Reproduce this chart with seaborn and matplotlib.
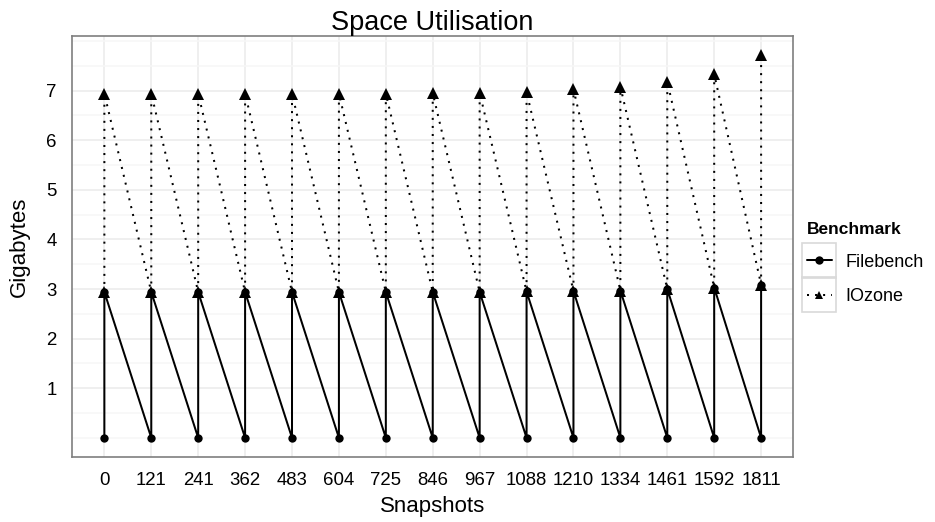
import pandas as pd
import matplotlib
matplotlib.use("Agg")
import matplotlib.pyplot as plt
import seaborn as sns
from matplotlib.patches import Rectangle

# Snapshot labels (evenly spaced categories on the x axis)
snapshots = ["0", "121", "241", "362", "483", "604", "725", "846",
             "967", "1088", "1210", "1334", "1461", "1592", "1811"]

# Space used (GB) at each snapshot
filebench_base = [0.0, 0.0, 0.0, 0.0, 0.0, 0.0, 0.0, 0.0,
                  0.0, 0.0, 0.0, 0.0, 0.0, 0.0, 0.0]
filebench_top = [2.94, 2.94, 2.94, 2.94, 2.94, 2.94, 2.94, 2.94,
                 2.94, 2.95, 2.96, 2.97, 3.00, 3.03, 3.09]
iozone_top = [6.94, 6.94, 6.94, 6.94, 6.94, 6.94, 6.94, 6.95,
              6.96, 6.97, 7.03, 7.08, 7.18, 7.33, 7.72]

y_breaks = [1, 2, 3, 4, 5, 6, 7]
y_minor = [0, 0.5, 1.5, 2.5, 3.5, 4.5, 5.5, 6.5, 7.5, 8]

rows = []
for i, lab in enumerate(snapshots):
    rows.append((i, filebench_base[i], "Filebench"))
    rows.append((i, filebench_top[i], "Filebench"))
    rows.append((i, filebench_top[i], "IOzone"))
    rows.append((i, iozone_top[i], "IOzone"))
df = pd.DataFrame(rows, columns=["pos", "gb", "Benchmark"])

sns.set_style("white")
plt.rcParams["font.family"] = ["Liberation Sans", "DejaVu Sans"]
plt.rcParams["text.color"] = "black"
plt.rcParams["axes.labelcolor"] = "black"

W, H = 935, 522
fig, ax = plt.subplots(figsize=(W / 100, H / 100), dpi=100)
fig.subplots_adjust(left=72 / W, right=793 / W, top=1 - 36 / H, bottom=1 - 457 / H)

sns.lineplot(
    data=df, x="pos", y="gb", hue="Benchmark", style="Benchmark",
    palette={"Filebench": "black", "IOzone": "black"},
    markers={"Filebench": "o", "IOzone": "^"},
    dashes={"Filebench": "", "IOzone": (1, 3)},
    estimator=None, sort=True, ax=ax,
    linewidth=1.45, markersize=6.0,
    markeredgecolor="black", markeredgewidth=0,
)

# triangles sit on top of the circles and are a touch larger
for ln in ax.lines:
    if ln.get_marker() == "^":
        ln.set_markersize(8.4)
        ln.set_zorder(3)
    elif ln.get_marker() == "o":
        ln.set_zorder(2.5)

ax.set_xlim(-0.69, 14.68)
ax.set_ylim(-0.386, 8.1)
ax.set_xticks(range(len(snapshots)))
ax.set_xticklabels(snapshots)
ax.set_yticks(y_breaks)
ax.set_yticks(y_minor, minor=True)

ax.set_axisbelow(True)
ax.grid(which="major", color="#EBEBEB", linewidth=1.1)
ax.grid(which="minor", axis="y", color="#F6F6F6", linewidth=1.1)
ax.tick_params(which="major", length=6, width=1.0, color="#7F7F7F",
               labelsize=13.4, labelcolor="black", pad=5)
ax.tick_params(which="minor", length=0)
for s in ax.spines.values():
    s.set_color("#7F7F7F")
    s.set_linewidth(1.2)

ax.set_xlabel("Snapshots", fontsize=16, labelpad=5)
ax.set_ylabel("Gigabytes", fontsize=16, labelpad=12)
ax.set_title("Space Utilisation", fontsize=19.5, pad=4, color="black")

sns.move_legend(
    ax, "upper left", bbox_to_anchor=(794 / W, 1 - 209 / H),
    bbox_transform=fig.transFigure, frameon=False,
    title="Benchmark", fontsize=13,
    title_fontproperties={"weight": "bold", "size": 12.5},
    handlelength=1.4, handletextpad=0.75, labelspacing=0.95,
    borderpad=0.2, alignment="left",
)
leg = ax.get_legend()

# grey key boxes around each legend glyph
fig.canvas.draw()
renderer = fig.canvas.get_renderer()
for ln in leg.get_lines():
    bb = ln.get_window_extent(renderer)
    cx = (bb.x0 + bb.x1) / 2
    cy = (bb.y0 + bb.y1) / 2
    rect = Rectangle((cx - 17, cy - 17.5), 34, 35, transform=None,
                     facecolor="none", edgecolor="#D9D9D9", linewidth=1.2)
    fig.patches.append(rect)

fig.savefig("out.png", dpi=100)
